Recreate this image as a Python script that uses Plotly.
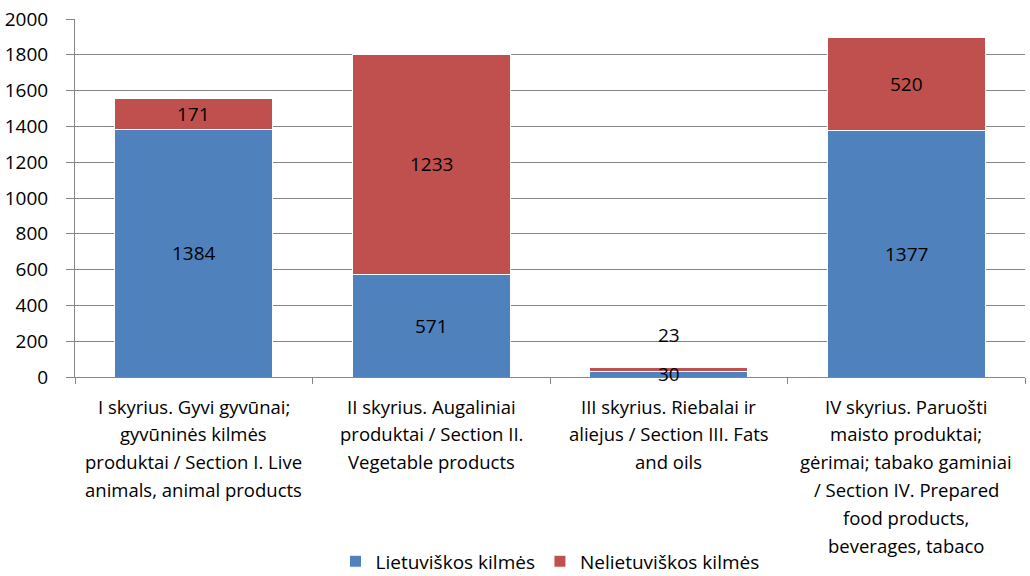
import plotly.graph_objects as go

category_lines = [
    ["I skyrius. Gyvi gyvūnai;", "gyvūninės kilmės", "produktai / Section I. Live", "animals, animal products"],
    ["II skyrius. Augaliniai", "produktai / Section II.", "Vegetable products"],
    ["III skyrius. Riebalai ir", "aliejus / Section III. Fats", "and oils"],
    ["IV skyrius. Paruošti", "maisto produktai;", "gėrimai; tabako gaminiai", "/ Section IV. Prepared",
     "food products,", "beverages, tabaco"],
]
categories = [" ".join(lines) for lines in category_lines]
lithuanian = [1384, 571, 30, 1377]
non_lithuanian = [171, 1233, 23, 520]
series_names = ["Lietuviškos kilmės", "Nelietuviškos kilmės"]
colors = ["#4F81BD", "#C0504D"]
font = "'Open Sans', sans-serif"
fs = 19

fig = go.Figure()
fig.add_trace(go.Bar(x=categories, y=lithuanian, name=series_names[0],
                     marker=dict(color=colors[0], line=dict(color="white", width=1))))
fig.add_trace(go.Bar(x=categories, y=non_lithuanian, name=series_names[1],
                     marker=dict(color=colors[1], line=dict(color="white", width=1))))

for c, a, b in zip(categories, lithuanian, non_lithuanian):
    fig.add_annotation(x=c, y=a / 2, text=str(a), showarrow=False,
                       font=dict(size=fs, color="black", family=font))
    fig.add_annotation(x=c, y=a + b / 2, yshift=(0 if b >= 100 else 35),
                       text=str(b), showarrow=False,
                       font=dict(size=fs, color="black", family=font))

# category labels, one text per line (reference uses wider line spacing than plotly's default)
line_gap = 27.8
first_offset = 29
for c, lines in zip(categories, category_lines):
    for k, line in enumerate(lines):
        fig.add_annotation(x=c, xref="x", y=0, yref="paper", yanchor="middle",
                           yshift=-(first_offset + line_gap * k), text=line, showarrow=False,
                           font=dict(size=18.5, color="black", family=font))

fig.update_layout(
    barmode="stack",
    bargap=0.335,
    width=1030, height=576,
    margin=dict(l=75, r=5, t=19, b=199, autoexpand=False),
    plot_bgcolor="white", paper_bgcolor="white",
    font=dict(family=font, size=fs, color="black"),
    legend=dict(orientation="h", x=0.5, xanchor="center", y=-0.515, yanchor="middle",
                font=dict(size=fs), itemwidth=30, traceorder="normal"),
    showlegend=True,
)
fig.update_xaxes(showline=True, linecolor="#868686", linewidth=1, automargin=False,
                 ticks="outside", ticklen=6, tickcolor="#868686", tickson="boundaries",
                 showticklabels=False)
fig.update_yaxes(range=[0, 2000], dtick=200, showgrid=True, gridcolor="#868686", gridwidth=1,
                 showline=True, linecolor="#868686", ticks="outside", ticklen=8, automargin=False,
                 tickcolor="#868686", tickfont=dict(size=fs), zeroline=False, ticklabelstandoff=14)

fig.write_html("out.html", config={"displayModeBar": False},
               post_script="document.body.style.margin='0';document.body.style.overflow='hidden';")
